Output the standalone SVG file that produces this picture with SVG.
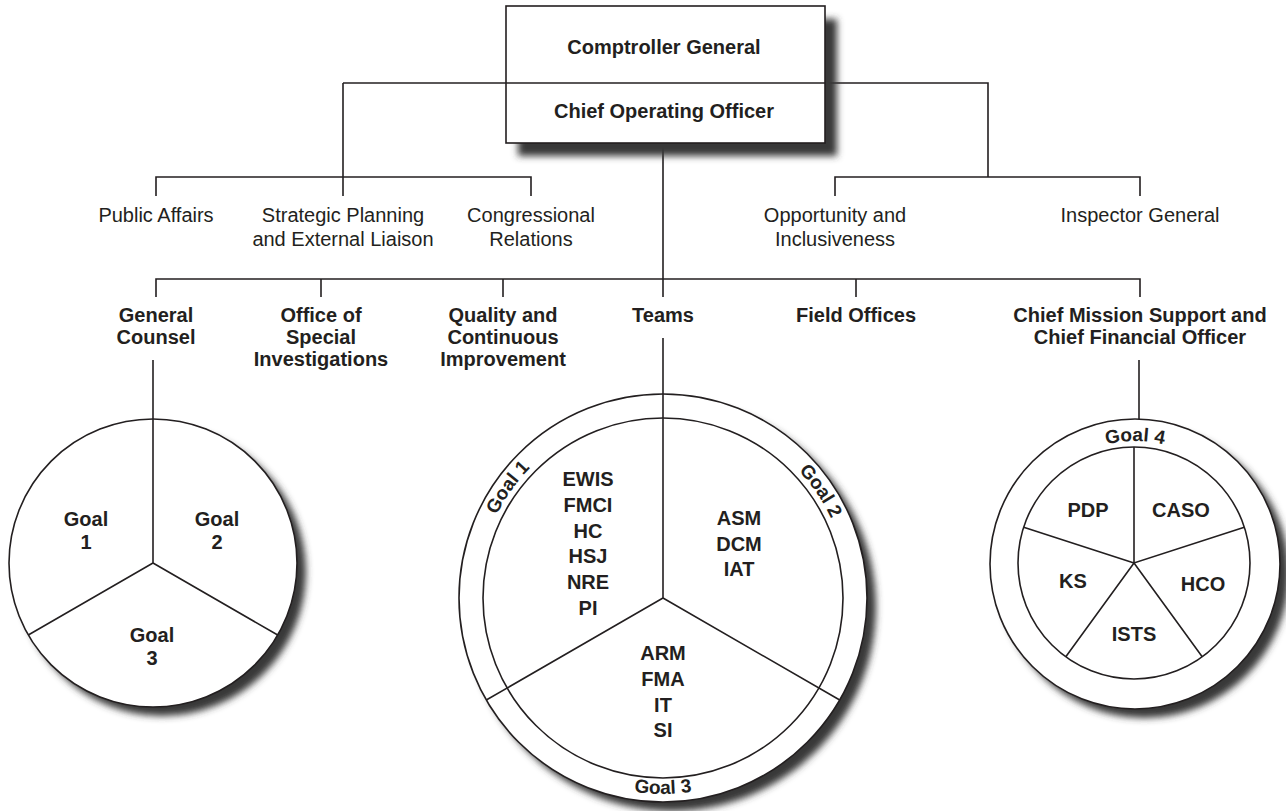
<svg xmlns="http://www.w3.org/2000/svg" width="1286" height="811" viewBox="0 0 1286 811">
<style>
.ln{stroke:#231f20;stroke-width:1.6;fill:none}
.sh{fill:#383838;filter:url(#blur)}
.t{font-family:"Liberation Sans",Arial,Helvetica,sans-serif;font-size:20px;fill:#231f20;text-anchor:middle}
.b{font-weight:bold}
.g{font-size:19px}
.shape{fill:#fff;stroke:#231f20;stroke-width:1.6}
</style>
<defs>
<filter id="blur" x="-20%" y="-20%" width="140%" height="140%"><feGaussianBlur stdDeviation="3.5"/></filter>
<path id="arcTop2" d="M 477 598 A 186 186 0 0 1 849 598"/>
<path id="arcBot2" d="M 467 598 A 196 196 0 0 0 859 598"/>
<path id="arcTop3" d="M 1012 564 A 123 123 0 0 1 1258 564"/>
</defs>
<rect width="1286" height="811" fill="#fff"/>

<g id="connectors" class="ln">
<path d="M343 83 H506"/>
<path d="M825 83 H988 V177"/>
<path d="M343 83 V196"/>
<path d="M156 196 V177 H531 V196"/>
<path d="M835 196 V177 H1140 V196"/>
<path d="M663 143 V297"/>
<path d="M156 297 V279 H1140 V297"/>
<path d="M321 279 V297"/>
<path d="M503 279 V297"/>
<path d="M856 279 V297"/>
<path d="M153 360 V420"/>
<path d="M663 338 V394"/>
<path d="M1139 360 V420"/>
</g>

<g id="node-top">
<rect class="sh" x="518" y="19" width="319" height="137"/>
<rect class="shape" x="506" y="6" width="319" height="137"/>
<path class="ln" d="M506 83 H825"/>
<text class="t b" x="664" y="54">Comptroller General</text>
<text class="t b" x="664" y="118">Chief Operating Officer</text>
</g>

<g id="node-public-affairs"><text class="t" x="156" y="222">Public Affairs</text></g>
<g id="node-strategic"><text class="t" x="343" y="222">Strategic Planning</text><text class="t" x="343" y="246">and External Liaison</text></g>
<g id="node-congressional"><text class="t" x="531" y="222">Congressional</text><text class="t" x="531" y="246">Relations</text></g>
<g id="node-opportunity"><text class="t" x="835" y="222">Opportunity and</text><text class="t" x="835" y="246">Inclusiveness</text></g>
<g id="node-inspector"><text class="t" x="1140" y="222">Inspector General</text></g>

<g id="node-general-counsel"><text class="t b" x="156" y="322">General</text><text class="t b" x="156" y="344">Counsel</text></g>
<g id="node-osi"><text class="t b" x="321" y="322">Office of</text><text class="t b" x="321" y="344">Special</text><text class="t b" x="321" y="366">Investigations</text></g>
<g id="node-quality"><text class="t b" x="503" y="322">Quality and</text><text class="t b" x="503" y="344">Continuous</text><text class="t b" x="503" y="366">Improvement</text></g>
<g id="node-teams"><text class="t b" x="663" y="322">Teams</text></g>
<g id="node-field"><text class="t b" x="856" y="322">Field Offices</text></g>
<g id="node-cms"><text class="t b" x="1140" y="322">Chief Mission Support and</text><text class="t b" x="1140" y="344">Chief Financial Officer</text></g>

<g id="node-gc-circle">
<circle class="sh" cx="162" cy="572" r="144"/>
<circle class="shape" cx="153" cy="563" r="144"/>
<path class="ln" d="M153 419 V563 L28.3 635 M153 563 L277.7 635"/>
<text class="t b" x="86" y="526">Goal</text><text class="t b" x="86" y="549">1</text>
<text class="t b" x="217" y="526">Goal</text><text class="t b" x="217" y="549">2</text>
<text class="t b" x="152" y="642">Goal</text><text class="t b" x="152" y="665">3</text>
</g>

<g id="node-teams-circle">
<circle class="sh" cx="672" cy="607" r="204"/>
<circle class="shape" cx="663" cy="598" r="204"/>
<circle class="shape" cx="663" cy="598" r="180"/>
<path class="ln" d="M663 394 V598 L486.3 700 M663 598 L839.7 700"/>
<text class="t b g"><textPath href="#arcTop2" startOffset="19.7%">Goal 1</textPath></text>
<text class="t b g"><textPath href="#arcTop2" startOffset="81%">Goal 2</textPath></text>
<text class="t b g"><textPath href="#arcBot2" startOffset="50%">Goal 3</textPath></text>
<text class="t b" x="588" y="486">EWIS</text>
<text class="t b" x="588" y="512">FMCI</text>
<text class="t b" x="588" y="538">HC</text>
<text class="t b" x="588" y="563">HSJ</text>
<text class="t b" x="588" y="589">NRE</text>
<text class="t b" x="588" y="615">PI</text>
<text class="t b" x="739" y="525">ASM</text>
<text class="t b" x="739" y="551">DCM</text>
<text class="t b" x="739" y="576">IAT</text>
<text class="t b" x="663" y="660">ARM</text>
<text class="t b" x="663" y="686">FMA</text>
<text class="t b" x="663" y="712">IT</text>
<text class="t b" x="663" y="737">SI</text>
</g>

<g id="node-cms-circle">
<circle class="sh" cx="1144" cy="573" r="145"/>
<circle class="shape" cx="1135" cy="564" r="145"/>
<circle class="shape" cx="1134" cy="563" r="116"/>
<path class="ln" d="M1134 447 V563 L1244.3 527.2 M1134 563 L1202.2 656.8 M1134 563 L1065.8 656.8 M1134 563 L1023.7 527.2"/>
<text class="t b g"><textPath href="#arcTop3" startOffset="50%">Goal 4</textPath></text>
<text class="t b" x="1088" y="517">PDP</text>
<text class="t b" x="1181" y="517">CASO</text>
<text class="t b" x="1073" y="588">KS</text>
<text class="t b" x="1203" y="591">HCO</text>
<text class="t b" x="1134" y="641">ISTS</text>
</g>
</svg>
